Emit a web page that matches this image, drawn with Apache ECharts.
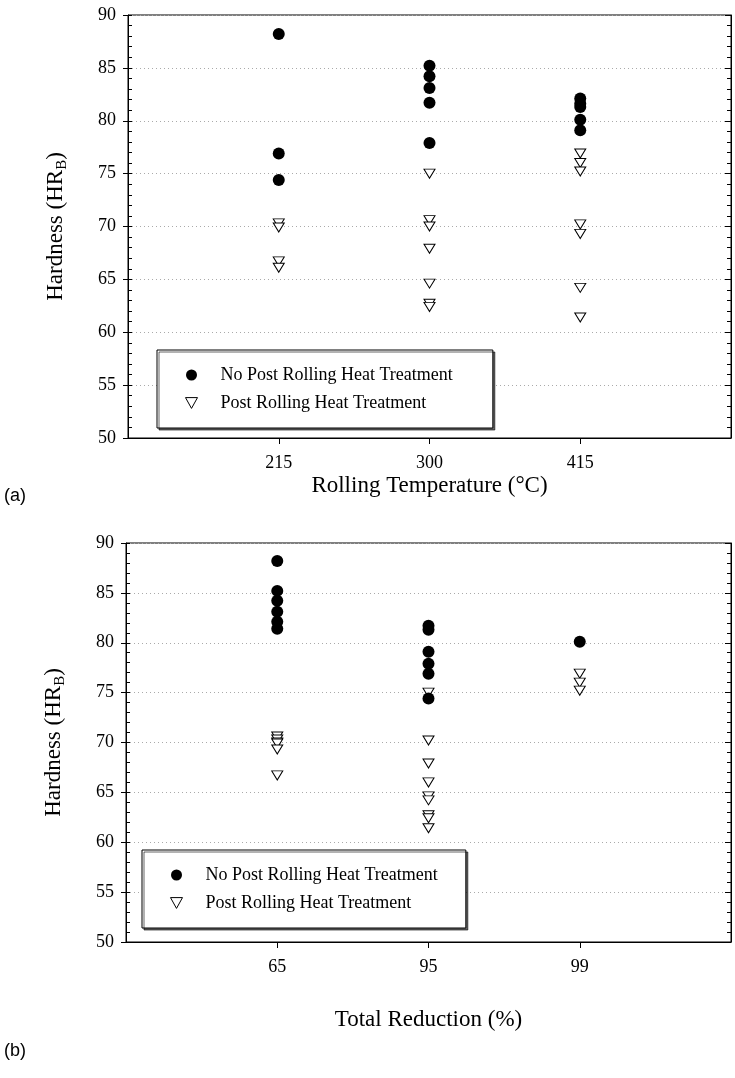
<!DOCTYPE html>
<html>
<head>
<meta charset="utf-8">
<script src="https://cdn.jsdelivr.net/npm/echarts@6/dist/echarts.min.js"></script>
<style>
  html, body { margin: 0; padding: 0; background: #fff; }
  #main { width: 735px; height: 1078px; }
</style>
</head>
<body>
<div id="main"></div>
<script>
var chart = echarts.init(document.getElementById("main"));

// (a) rolling temperature
var tempCats = ['215', '300', '415'];
var tempNoHeat = [
  [88.2, 76.9, 74.4],
  [85.2, 84.2, 83.1, 81.7, 77.9],
  [82.1, 81.6, 81.3, 80.1, 79.1]
];
var tempHeat = [
  [70.3, 69.9, 66.7, 66.1],
  [75.0, 70.6, 70.0, 67.9, 64.6, 62.7, 62.4],
  [76.9, 76.0, 75.2, 70.2, 69.3, 64.2, 61.4]
];

// (b) total reduction
var redCats = ['65', '95', '99'];
var redNoHeat = [
  [88.2, 85.2, 84.2, 83.1, 82.1, 81.4],
  [81.7, 81.3, 79.1, 77.9, 76.9, 74.4],
  [80.1]
];
var redHeat = [
  [70.6, 70.3, 70.0, 69.9, 69.3, 66.7],
  [75.0, 70.2, 67.9, 66.0, 64.6, 64.2, 62.7, 62.4, 61.4],
  [76.9, 76.0, 75.2]
];

var yTicks = [50, 55, 60, 65, 70, 75, 80, 85, 90];
var nameNo = 'No Post Rolling Heat Treatment';
var nameYes = 'Post Rolling Heat Treatment';

function toPoints(groups) {
  var out = [];
  groups.forEach(function (g, i) {
    g.forEach(function (v) { out.push([i + 1, v]); });
  });
  return out;
}

var serif = 'Liberation Serif';
var triangle = 'path://M0,0 L10,0 L5,9 Z';

function xAxisFor(grid, cats, name, gap) {
  return {
    type: 'value', gridIndex: grid, min: 0, max: 4, interval: 1,
    axisLine: { lineStyle: { color: '#000', width: 1 } },
    axisTick: { customValues: [1, 2, 3], length: 6, lineStyle: { color: '#000' } },
    axisLabel: {
      customValues: [1, 2, 3],
      formatter: function (v) { return cats[v - 1]; },
      fontFamily: serif, fontSize: 18, color: '#000', margin: 16
    },
    splitLine: { show: false },
    name: name, nameLocation: 'middle', nameGap: gap,
    nameTextStyle: { fontFamily: serif, fontSize: 23, color: '#000' }
  };
}

function yAxesFor(grid) {
  var base = { type: 'value', gridIndex: grid, min: yTicks[0], max: yTicks[yTicks.length - 1], interval: 5 };
  return [
    Object.assign({}, base, {
      position: 'left',
      axisLine: { show: true, lineStyle: { color: '#000' } },
      axisTick: { show: true, length: 5, lineStyle: { color: '#000' } },
      axisLabel: { fontFamily: serif, fontSize: 18, color: '#000', margin: 12 },
      splitLine: {
        show: true,
        lineStyle: { color: '#aaa', type: [1, 3], width: 1 }
      },
      name: '{a|Hardness (HR}{b|B}{a|)}',
      nameLocation: 'middle', nameRotate: 90, nameGap: 58,
      nameTextStyle: {
        rich: {
          a: { fontFamily: serif, fontSize: 23, color: '#000', lineHeight: 28, verticalAlign: 'middle' },
          b: { fontFamily: serif, fontSize: 15, color: '#000', lineHeight: 15, verticalAlign: 'bottom' }
        }
      }
    }),
    Object.assign({}, base, {
      position: 'left',
      axisLine: { show: false },
      axisTick: { show: true, inside: true, length: 4, lineStyle: { color: '#000' } },
      minorTick: { show: true, splitNumber: 5, length: 4, lineStyle: { color: '#000' } },
      axisLabel: { show: false },
      splitLine: { show: false }
    }),
    Object.assign({}, base, {
      position: 'right',
      axisLine: { show: true, lineStyle: { color: '#000' } },
      axisTick: { show: true, inside: true, length: 6, lineStyle: { color: '#000' } },
      minorTick: { show: true, splitNumber: 5, length: 4, lineStyle: { color: '#000' } },
      axisLabel: { show: false },
      splitLine: { show: false }
    })
  ];
}

function legendFor(left, top, padding) {
  return {
    left: left, top: top, orient: 'vertical',
    data: [
      { name: nameNo, icon: 'circle', itemStyle: { color: '#000', borderWidth: 0 } },
      { name: nameYes, icon: triangle, itemStyle: { color: '#fff', borderColor: '#000', borderWidth: 1 } }
    ],
    itemWidth: 12, itemHeight: 11, itemGap: 10,
    padding: padding,
    backgroundColor: '#fff',
    borderColor: '#000', borderWidth: 1, borderRadius: 0,
    shadowColor: 'rgba(0,0,0,0.6)', shadowOffsetX: 2, shadowOffsetY: 2, shadowBlur: 0,
    textStyle: { fontFamily: serif, fontSize: 18, color: '#000', padding: [0, 0, 0, 18] }
  };
}

function scatter(name, groups, xi, yi, filled) {
  return {
    type: 'scatter', name: name, xAxisIndex: xi, yAxisIndex: yi,
    data: toPoints(groups),
    symbol: filled ? 'circle' : triangle,
    symbolSize: filled ? 12 : [11, 9],
    itemStyle: filled
      ? { color: '#000', borderColor: '#000', borderWidth: 0, opacity: 1 }
      : { color: '#fff', borderColor: '#000', borderWidth: 1, opacity: 1 },
    emphasis: { disabled: true },
    z: filled ? 3 : 2
  };
}

var option = {
  backgroundColor: '#fff',
  animation: false,
  grid: [
    { left: 128, top: 15, width: 603, height: 423, show: true, borderColor: '#000', borderWidth: 1, backgroundColor: 'transparent' },
    { left: 126, top: 543, width: 605, height: 399, show: true, borderColor: '#000', borderWidth: 1, backgroundColor: 'transparent' }
  ],
  xAxis: [
    xAxisFor(0, tempCats, 'Rolling Temperature (°C)', 36),
    xAxisFor(1, redCats, 'Total Reduction (%)', 66)
  ],
  yAxis: yAxesFor(0).concat(yAxesFor(1)),
  legend: [
    legendFor(157, 350, [16, 40, 16, 28]),
    legendFor(142, 850, [16, 28, 16, 28])
  ],
  graphic: [
    { type: 'text', left: 4, top: 487, style: { text: '(a)', font: '18px "Liberation Sans"', fill: '#000' } },
    { type: 'text', left: 4, top: 1042, style: { text: '(b)', font: '18px "Liberation Sans"', fill: '#000' } }
  ],
  series: [
    scatter(nameNo, tempNoHeat, 0, 0, true),
    scatter(nameYes, tempHeat, 0, 0, false),
    scatter(nameNo, redNoHeat, 1, 3, true),
    scatter(nameYes, redHeat, 1, 3, false)
  ]
};
chart.setOption(option);
</script>
</body>
</html>
